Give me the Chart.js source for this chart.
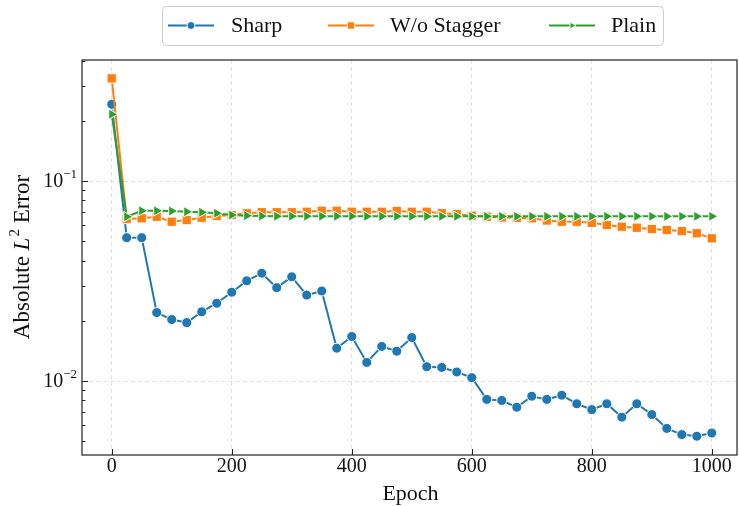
<!DOCTYPE html>
<html>
<head>
<meta charset="utf-8">
<script src="https://cdn.jsdelivr.net/npm/chart.js@4/dist/chart.umd.min.js"></script>
<style>
  html, body { margin: 0; padding: 0; background: #fff; overflow: hidden; width: 739px; height: 506px; }
  /* a bit wider than the window: Chart.js reserves room for the last marker on the right */
  #wrap { width: 747px; height: 506px; }
</style>
</head>
<body>
<div id="wrap"><canvas id="chart"></canvas></div>
<script>
const epochs = [0, 25, 50, 75, 100, 125, 150, 175, 200, 225, 250, 275, 300, 325, 350, 375, 400,
  425, 450, 475, 500, 525, 550, 575, 600, 625, 650, 675, 700, 725, 750, 775, 800, 825, 850, 875,
  900, 925, 950, 975, 1000];

const sharp = [0.2418, 0.0521, 0.0521, 0.0220, 0.0203, 0.0196, 0.0222, 0.0245, 0.0278, 0.0317,
  0.0346, 0.0293, 0.0332, 0.0269, 0.0282, 0.0146, 0.0167, 0.0124, 0.0149, 0.0141, 0.0165,
  0.0118, 0.0117, 0.0111, 0.0104, 0.0081, 0.0080, 0.0074, 0.0084, 0.0081, 0.0085, 0.0077,
  0.0072, 0.0077, 0.0066, 0.0077, 0.0068, 0.0058, 0.0054, 0.0053, 0.0055];

const noStagger = [0.326, 0.0646, 0.0651, 0.0663, 0.0626, 0.0638, 0.0655, 0.0668, 0.0676, 0.0690,
  0.0698, 0.0698, 0.0698, 0.0702, 0.0710, 0.0710, 0.0702, 0.0702, 0.0702, 0.0708, 0.0702,
  0.0702, 0.0690, 0.0684, 0.0671, 0.0663, 0.0657, 0.0655, 0.0651, 0.0635, 0.0626, 0.0626,
  0.0618, 0.0603, 0.0591, 0.0584, 0.0575, 0.0569, 0.0562, 0.0548, 0.0517];

const plain = [0.2156, 0.0663, 0.0710, 0.0710, 0.0708, 0.0702, 0.0698, 0.0690, 0.0676, 0.0671,
  0.0668, 0.0667, 0.0667, 0.0667, 0.0667, 0.0667, 0.0667, 0.0666, 0.0666, 0.0666, 0.0666,
  0.0666, 0.0666, 0.0666, 0.0666, 0.0666, 0.0666, 0.0666, 0.0666, 0.0666, 0.0666, 0.0666,
  0.0666, 0.0666, 0.0666, 0.0666, 0.0666, 0.0666, 0.0666, 0.0666, 0.0666];

const xTicks = [0, 200, 400, 600, 800, 1000];
const yMajor = [0.01, 0.1];
const yMinor = [0.005, 0.006, 0.007, 0.008, 0.009, 0.02, 0.03, 0.04, 0.05, 0.06, 0.07, 0.08, 0.09, 0.2, 0.3, 0.4];
const yMajorLabels = [['10', '−2'], ['10', '−1']];

const FONT = '"Liberation Serif", "DejaVu Serif", serif';
const GRID = '#dcdcdc';

function makeSet(label, data, color, style, radius, order) {
  return {
    label, data, order,
    borderColor: color,
    backgroundColor: color,
    borderWidth: 2,
    pointStyle: style,
    pointRadius: radius,
    pointHoverRadius: radius,
    pointRotation: style === 'triangle' ? 90 : 0,
    pointBackgroundColor: color,
    pointBorderColor: '#fff',
    pointBorderWidth: 1,
    fill: false,
    tension: 0
  };
}

const datasets = [
  makeSet('Sharp', sharp, '#1f77b4', 'circle', 5, 3),
  makeSet('W/o Stagger', noStagger, '#ff7f0e', 'rect', 6.6, 2),
  makeSet('Plain', plain, '#2ca02c', 'triangle', 6, 1)
];

const extras = {
  id: 'extras',
  afterDraw(chart) {
    const ctx = chart.ctx;
    const a = chart.chartArea;
    const xs = chart.scales.x, ys = chart.scales.y;
    ctx.save();

    // frame
    ctx.strokeStyle = '#222';
    ctx.lineWidth = 1.2;
    ctx.strokeRect(a.left, a.top, a.right - a.left, a.bottom - a.top);

    // inward ticks
    ctx.lineWidth = 1;
    ctx.beginPath();
    xTicks.forEach(v => {
      const px = Math.round(xs.getPixelForValue(v)) + 0.5;
      ctx.moveTo(px, a.bottom); ctx.lineTo(px, a.bottom - 6);
    });
    yMajor.forEach(v => {
      const py = Math.round(ys.getPixelForValue(v)) + 0.5;
      ctx.moveTo(a.left, py); ctx.lineTo(a.left + 6, py);
    });
    yMinor.forEach(v => {
      const py = Math.round(ys.getPixelForValue(v)) + 0.5;
      ctx.moveTo(a.left, py); ctx.lineTo(a.left + 3.5, py);
    });
    ctx.stroke();

    // x tick labels
    ctx.fillStyle = '#111';
    ctx.font = '20px ' + FONT;
    ctx.textAlign = 'center';
    ctx.textBaseline = 'middle';
    xTicks.forEach(v => ctx.fillText(String(v), xs.getPixelForValue(v), a.bottom + 12));

    // y tick labels with superscripts
    yMajor.forEach((v, i) => {
      const py = ys.getPixelForValue(v);
      const [base, exp] = yMajorLabels[i];
      ctx.font = '13px ' + FONT;
      const we = ctx.measureText(exp).width;
      ctx.textAlign = 'right';
      ctx.fillText(exp, a.left - 5, py - 6);
      ctx.font = '20px ' + FONT;
      ctx.fillText(base, a.left - 5 - we, py + 1);
    });

    // x title
    ctx.font = '22px ' + FONT;
    ctx.textAlign = 'center';
    ctx.fillText('Epoch', (a.left + a.right) / 2 + 1, 494);

    // y title: Absolute L^2 Error
    ctx.translate(23, (a.top + a.bottom) / 2);
    ctx.rotate(-Math.PI / 2);
    const parts = [
      { t: 'Absolute ', f: '23px ' + FONT, dy: 0 },
      { t: 'L', f: 'italic 23px ' + FONT, dy: 0 },
      { t: '2', f: '15px ' + FONT, dy: -8 },
      { t: ' Error', f: '23px ' + FONT, dy: 0 }
    ];
    let total = 0;
    parts.forEach(p => { ctx.font = p.f; p.w = ctx.measureText(p.t).width; total += p.w; });
    let cx = -total / 2;
    ctx.textAlign = 'left';
    parts.forEach(p => { ctx.font = p.f; ctx.fillText(p.t, cx, p.dy); cx += p.w + (p.t === 'L' ? 1 : 0); });
    ctx.restore();

    // legend
    ctx.save();
    const box = { x: 162.5, y: 6.5, w: 501, h: 39 };
    ctx.beginPath();
    ctx.roundRect(box.x, box.y, box.w, box.h, 4);
    ctx.fillStyle = 'rgba(255,255,255,0.85)';
    ctx.fill();
    ctx.strokeStyle = '#cccccc';
    ctx.lineWidth = 1;
    ctx.stroke();
    const entries = [
      { line: 168, text: 231 },
      { line: 328, text: 390 },
      { line: 549, text: 611 }
    ];
    const ly = 25.5;
    chart.data.datasets.forEach((ds, i) => {
      const e = entries[i];
      ctx.strokeStyle = ds.borderColor;
      ctx.lineWidth = 2;
      ctx.beginPath();
      ctx.moveTo(e.line, ly); ctx.lineTo(e.line + 46, ly);
      ctx.stroke();
      ctx.fillStyle = ds.borderColor;
      ctx.strokeStyle = '#fff';
      ctx.lineWidth = 1;
      Chart.helpers.drawPoint(ctx, {
        pointStyle: ds.pointStyle,
        rotation: ds.pointRotation,
        radius: ds.pointStyle === 'rect' ? 5.2 : 4,
        borderWidth: 1
      }, e.line + 23, ly);
      ctx.fillStyle = '#111';
      ctx.font = '22px ' + FONT;
      ctx.textAlign = 'left';
      ctx.textBaseline = 'middle';
      ctx.fillText(ds.label, e.text, ly + 1);
    });
    ctx.restore();
  }
};

new Chart(document.getElementById('chart'), {
  type: 'line',
  data: {
    labels: epochs,
    datasets: datasets.map(d => ({ ...d, data: d.data.map((v, i) => ({ x: epochs[i], y: v })) }))
  },
  options: {
    responsive: true,
    maintainAspectRatio: false,
    animation: false,
    layout: { padding: { left: 0, top: 60, right: 10, bottom: 0 } },
    plugins: { legend: { display: false }, tooltip: { enabled: false } },
    scales: {
      x: {
        type: 'linear',
        min: -49.5,
        max: 1042,
        afterBuildTicks: s => { s.ticks = xTicks.map(v => ({ value: v })); },
        afterFit: s => { s.height = 51; },
        ticks: { display: false },
        grid: {
          color: GRID,
          lineWidth: 0.9,
          drawTicks: false
        },
        border: { display: false, dash: [4, 3] }
      },
      y: {
        type: 'logarithmic',
        min: 0.00427,
        max: 0.4027,
        afterBuildTicks: s => {
          s.ticks = yMajor.concat(yMinor).sort((p, q) => p - q).map(v => ({ value: v }));
        },
        afterFit: s => { s.width = 82; },
        ticks: { display: false },
        grid: {
          color: c => (c.tick && yMajor.includes(c.tick.value)) ? GRID : 'rgba(0,0,0,0)',
          lineWidth: 0.9,
          drawTicks: false
        },
        border: { display: false, dash: [4, 3] }
      }
    }
  },
  plugins: [extras]
});
</script>
</body>
</html>
